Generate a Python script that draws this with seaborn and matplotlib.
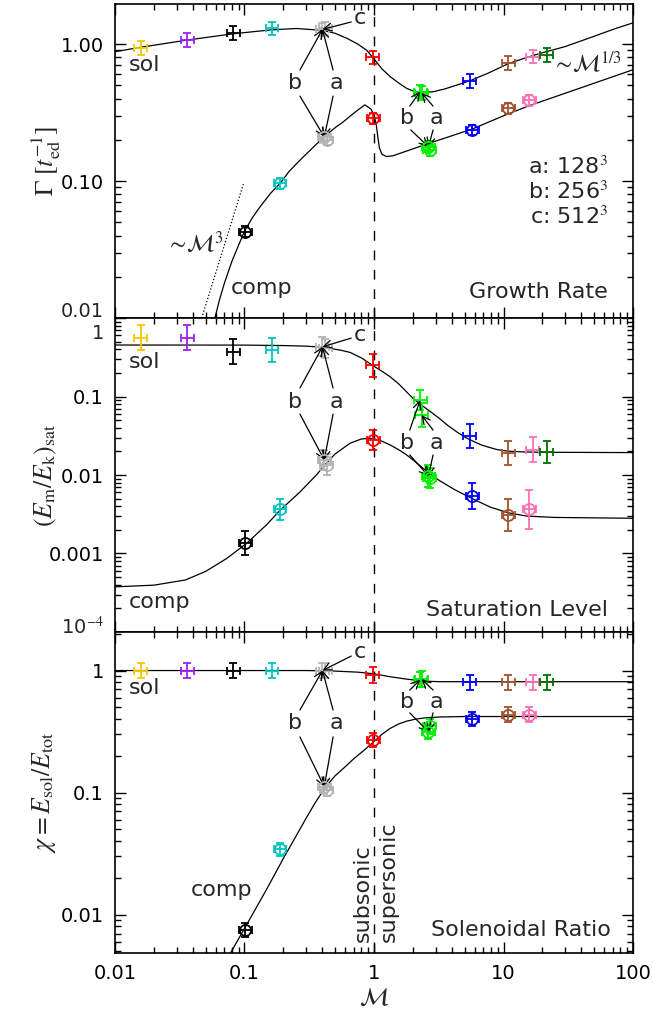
import matplotlib
matplotlib.use("Agg")
import matplotlib.pyplot as plt
import pandas as pd
import seaborn as sns
from matplotlib.ticker import FixedLocator, FixedFormatter, LogLocator, NullFormatter

sns.set_theme(style="ticks")
plt.rcParams["font.family"] = ["DejaVu Sans"]
plt.rcParams["mathtext.fontset"] = "stix"

# ---- point data (one entry per simulation) ----
sol_colors = ["#F5C800", "#A020F0", "black", "#00C4C4", "#B4B4B4", "red",
              "#00F000", "blue", "#A0522D", "#FF6EB4", "#007000"]
sol_mach = [0.0158, 0.036, 0.082, 0.163, 0.40, 0.98, 2.27, 5.5, 10.9, 16.8, 21.5]
comp_colors = ["black", "#00C4C4", "#B4B4B4", "red", "#00F000", "blue", "#A0522D", "#FF6EB4"]
comp_mach = [0.101, 0.188, 0.413, 0.99, 2.63, 5.74, 10.9, 15.8]

# extra resolutions at the gray and green Mach numbers
res_sol_colors = ["#B4B4B4", "#00F000"]
res_sol_mach = [0.42, 2.33]
res_comp_colors = ["#B4B4B4", "#00F000"]
res_comp_mach = [0.43, 2.70]

# growth rate
gr_sol = [0.94, 1.07, 1.20, 1.30, 1.28, 0.80, 0.45, 0.54, 0.73, 0.81, 0.83]
gr_sol_err = [0.05, 0.05, 0.05, 0.05, 0.05, 0.05, 0.05, 0.05, 0.05, 0.05, 0.05]
gr_comp = [0.0427, 0.096, 0.21, 0.287, 0.178, 0.236, 0.34, 0.39]
gr_comp_err = [0.04, 0.04, 0.04, 0.04, 0.04, 0.04, 0.04, 0.04]
gr_res_sol = [1.30, 0.44]
gr_res_comp = [0.20, 0.168]

# saturation level
sat_sol = [0.56, 0.56, 0.37, 0.39, 0.43, 0.25, 0.090, 0.0315, 0.019, 0.021, 0.0195]
sat_sol_err = [0.16, 0.16, 0.16, 0.15, 0.12, 0.15, 0.13, 0.15, 0.15, 0.16, 0.14]
sat_comp = [0.00135, 0.00365, 0.0156, 0.028, 0.0097, 0.0054, 0.0031, 0.00365]
sat_comp_err = [0.15, 0.13, 0.13, 0.13, 0.14, 0.16, 0.20, 0.25]
sat_res_sol = [0.41, 0.058]
sat_res_comp = [0.0136, 0.0092]

# solenoidal ratio
chi_sol = [1.0, 1.0, 1.0, 1.0, 1.0, 0.92, 0.84, 0.80, 0.80, 0.80, 0.80]
chi_sol_err = [0.065, 0.065, 0.065, 0.065, 0.065, 0.065, 0.06, 0.06, 0.06, 0.06, 0.06]
chi_comp = [0.0075, 0.0342, 0.112, 0.27, 0.316, 0.40, 0.434, 0.434]
chi_comp_err = [0.06, 0.05, 0.05, 0.06, 0.06, 0.06, 0.06, 0.06]
chi_res_sol = [1.0, 0.85]
chi_res_comp = [0.105, 0.35]

# ---- fit curves ----
gr_sol_curve_m = [0.01, 0.016, 0.036, 0.082, 0.16, 0.25, 0.4, 0.5, 0.62, 0.75, 0.88, 1.0,
                  1.15, 1.33, 1.55, 1.79, 2.0, 2.27, 2.87, 3.5, 4.3, 5.5, 7.5, 10.9, 14,
                  19.1, 30, 50, 70, 100]
gr_sol_curve_v = [0.88, 0.95, 1.07, 1.19, 1.27, 1.30, 1.26, 1.20, 1.10, 1.00, 0.90, 0.78,
                  0.66, 0.58, 0.52, 0.475, 0.455, 0.444, 0.449, 0.47, 0.50, 0.54, 0.61, 0.72,
                  0.78, 0.855, 0.96, 1.14, 1.28, 1.43]
gr_comp_curve_m = [0.0591, 0.064, 0.07, 0.08, 0.09, 0.1, 0.115, 0.132, 0.16, 0.188, 0.22,
                   0.268, 0.33, 0.41, 0.5, 0.58, 0.66, 0.75, 0.85, 0.95, 1.0, 1.04, 1.07,
                   1.10, 1.15, 1.25, 1.4, 2.63, 5.74, 10.9, 15.8, 100]
gr_comp_curve_v = [0.01, 0.0135, 0.018, 0.026, 0.034, 0.043, 0.054, 0.065, 0.082, 0.096,
                   0.117, 0.142, 0.172, 0.21, 0.245, 0.271, 0.30, 0.33, 0.36, 0.335, 0.30,
                   0.26, 0.21, 0.175, 0.157, 0.151, 0.153, 0.188, 0.24, 0.31, 0.355, 0.65]
m3_guide_m = [0.0467, 0.098]
m3_guide_v = [0.01, 0.095]

sat_sol_curve_m = [0.01, 0.1, 0.2, 0.3, 0.41, 0.55, 0.653, 0.8, 1.0, 1.15, 1.33, 1.55, 1.79,
                   2.0, 2.27, 2.7, 3.2, 3.7, 4.36, 5.1, 5.9, 6.8, 7.9, 9.0, 10.6, 14, 19, 100]
sat_sol_curve_v = [0.453, 0.452, 0.446, 0.438, 0.423, 0.39, 0.365, 0.31, 0.243, 0.21, 0.179,
                   0.145, 0.114, 0.095, 0.080, 0.065, 0.0525, 0.043, 0.0354, 0.030, 0.0267,
                   0.024, 0.0223, 0.021, 0.0202, 0.0197, 0.0195, 0.0193]
sat_comp_curve_m = [0.01, 0.02, 0.035, 0.05, 0.073, 0.104, 0.148, 0.188, 0.268, 0.36, 0.42,
                    0.5, 0.653, 0.8, 0.93, 1.0, 1.15, 1.33, 1.55, 1.79, 2.2, 2.63, 3.2, 4.2,
                    5.74, 7.9, 10.9, 15, 25, 100]
sat_comp_curve_v = [3.76e-4, 3.95e-4, 4.6e-4, 5.9e-4, 8.66e-4, 0.00135, 0.00232, 0.00355,
                    0.00607, 0.01005, 0.0136, 0.0185, 0.0254, 0.0288, 0.0293, 0.029, 0.027,
                    0.0242, 0.021, 0.018, 0.0137, 0.0107, 0.0085, 0.0065, 0.0050, 0.0039,
                    0.0033, 0.0030, 0.00288, 0.00281]

chi_sol_curve_m = [0.01, 0.3, 0.5, 0.75, 1.0, 1.33, 1.79, 2.4, 3.2, 100]
chi_sol_curve_v = [1.0, 1.0, 0.99, 0.97, 0.94, 0.89, 0.85, 0.82, 0.81, 0.81]
chi_comp_curve_m = [0.078, 0.1, 0.15, 0.2, 0.25, 0.3, 0.35, 0.42, 0.5, 0.6, 0.7, 0.85, 1.0,
                    1.15, 1.33, 1.55, 1.79, 2.1, 2.5, 3.2, 5.0, 100]
chi_comp_curve_v = [0.00485, 0.0077, 0.0165, 0.029, 0.044, 0.062, 0.082, 0.110, 0.137, 0.163,
                    0.19, 0.225, 0.262, 0.30, 0.335, 0.365, 0.385, 0.40, 0.41, 0.416, 0.42, 0.42]

XERR = 0.05  # dex, horizontal error half-width
FS = 14      # tick labels
TFS = 16     # annotations


def draw_points(ax, mach, vals, errs, colors, comp):
    for m, v, e, c in zip(mach, vals, errs, colors):
        xe = [[m - m / 10**XERR], [m * 10**XERR - m]]
        ye = [[v - v / 10**e], [v * 10**e - v]]
        ax.errorbar(m, v, xerr=xe, yerr=ye, fmt="o" if comp else "none", ms=8,
                    mfc="none", mec=c, mew=1.3, ecolor=c, elinewidth=1.3,
                    capsize=3, capthick=1.3, zorder=3)


def draw_curve(ax, xs, ys, **kw):
    df = pd.DataFrame({"M": xs, "v": ys})
    sns.lineplot(data=df, x="M", y="v", ax=ax, color="black", lw=0.9,
                 estimator=None, sort=False, zorder=2, **kw)


def style_axis(ax, ylim, yticks, ylabels):
    ax.set_xscale("log")
    ax.set_yscale("log")
    ax.set_xlim(0.01, 100)
    ax.set_ylim(*ylim)
    ax.xaxis.set_major_locator(FixedLocator([0.01, 0.1, 1, 10, 100]))
    ax.xaxis.set_major_formatter(FixedFormatter(["0.01", "0.1", "1", "10", "100"]))
    ax.xaxis.set_minor_locator(LogLocator(base=10, subs=range(2, 10), numticks=20))
    ax.xaxis.set_minor_formatter(NullFormatter())
    ax.yaxis.set_major_locator(FixedLocator(yticks))
    ax.yaxis.set_major_formatter(FixedFormatter(ylabels))
    ax.yaxis.set_minor_locator(LogLocator(base=10, subs=range(2, 10), numticks=20))
    ax.yaxis.set_minor_formatter(NullFormatter())
    ax.tick_params(which="both", direction="in", top=True, right=True, width=1,
                   labelsize=FS, colors="black")
    ax.tick_params(which="major", length=8, pad=8)
    ax.tick_params(which="minor", length=4.5)
    for sp in ax.spines.values():
        sp.set_linewidth(1.2)
        sp.set_color("black")
    ax.axvline(1, color="black", lw=1, ls=(0, (7, 7)), zorder=1)
    ax.set_xlabel("")


def edge_label(ax, text, yfrac, dy):
    # tick label at the panel edge, nudged so stacked panels don't collide
    ax.annotate(text, xy=(0, yfrac), xycoords="axes fraction", xytext=(-8, dy),
                textcoords="offset points", ha="right", va="center", fontsize=FS)


def label_arrows(ax, letter, xy_text, starts, targets):
    ax.text(*xy_text, letter, transform=ax.transAxes, fontsize=TFS, ha="center", va="center")
    for st, tg in zip(starts, targets):
        ax.annotate("", xy=tg, xycoords="data", xytext=st, textcoords="axes fraction",
                    arrowprops=dict(arrowstyle="->", lw=0.9, color="black",
                                    shrinkA=0, shrinkB=0, mutation_scale=14))


fig = plt.figure(figsize=(6.53, 10.19), dpi=100)
ax_gr = fig.add_axes([0.1761, 0.6879, 0.7933, 0.3081])
ax_sat = fig.add_axes([0.1761, 0.3798, 0.7933, 0.3081])
ax_chi = fig.add_axes([0.1761, 0.0648, 0.7933, 0.3150])

panels = [
    (ax_gr, gr_sol, gr_sol_err, gr_comp, gr_comp_err, gr_res_sol, gr_res_comp,
     gr_sol_curve_m, gr_sol_curve_v, gr_comp_curve_m, gr_comp_curve_v),
    (ax_sat, sat_sol, sat_sol_err, sat_comp, sat_comp_err, sat_res_sol, sat_res_comp,
     sat_sol_curve_m, sat_sol_curve_v, sat_comp_curve_m, sat_comp_curve_v),
    (ax_chi, chi_sol, chi_sol_err, chi_comp, chi_comp_err, chi_res_sol, chi_res_comp,
     chi_sol_curve_m, chi_sol_curve_v, chi_comp_curve_m, chi_comp_curve_v),
]

for (ax, s, se, c, ce, rs, rc, scm, scv, ccm, ccv) in panels:
    draw_curve(ax, scm, scv)
    draw_curve(ax, ccm, ccv)
    draw_points(ax, sol_mach, s, se, sol_colors, comp=False)
    draw_points(ax, comp_mach, c, ce, comp_colors, comp=True)
    draw_points(ax, res_sol_mach, rs, se[4:6], res_sol_colors, comp=False)
    draw_points(ax, res_comp_mach, rc, ce[2:4], res_comp_colors, comp=True)

draw_curve(ax_gr, m3_guide_m, m3_guide_v, linestyle=":")

style_axis(ax_gr, (0.01, 1.96), [0.01, 0.1, 1], ["", "0.10", "1.00"])
style_axis(ax_sat, (1e-4, 1.0), [1e-4, 1e-3, 1e-2, 0.1, 1],
           ["", "0.001", "0.01", "0.1", ""])
style_axis(ax_chi, (0.00485, 2.07), [0.01, 0.1, 1], ["0.01", "0.1", "1"])
ax_gr.tick_params(labelbottom=False)
ax_sat.tick_params(labelbottom=False)
edge_label(ax_gr, "0.01", 0.0, 4.5)
edge_label(ax_sat, "1", 1.0, -11)
edge_label(ax_sat, r"10$^{-4}$", 0.0, 3.6)

ax_gr.set_ylabel(r"$\Gamma\ [t_{\rm ed}^{-1}]$", fontsize=18.5)
ax_sat.set_ylabel(r"$(E_{\rm m}/E_{\rm k})_{\rm sat}$", fontsize=18.5)
ax_chi.set_ylabel(r"$\chi = E_{\rm sol}/E_{\rm tot}$", fontsize=18.5)
ax_gr.yaxis.set_label_coords(-0.10, 0.5)
ax_sat.yaxis.set_label_coords(-0.108, 0.5)
ax_chi.yaxis.set_label_coords(-0.11, 0.5)
ax_chi.set_xlabel(r"$\mathcal{M}$", fontsize=18, labelpad=2)

# text labels
ax_gr.text(0.058, 0.806, "sol", transform=ax_gr.transAxes, fontsize=TFS, ha="center", va="center")
ax_gr.text(0.283, 0.095, "comp", transform=ax_gr.transAxes, fontsize=TFS, ha="center", va="center")
ax_gr.text(0.154, 0.238, r"$\sim\!\mathcal{M}^3$", transform=ax_gr.transAxes, fontsize=TFS + 1,
           ha="center", va="center")
ax_gr.text(0.912, 0.811, r"$\sim\!\mathcal{M}^{1/3}$", transform=ax_gr.transAxes,
           fontsize=TFS + 1, ha="center", va="center")
for lab, yy in [("a: 128$^3$", 0.481), ("b: 256$^3$", 0.401), ("c: 512$^3$", 0.322)]:
    ax_gr.text(0.952, yy, lab, transform=ax_gr.transAxes, fontsize=TFS, ha="right", va="center")
ax_gr.text(0.952, 0.083, "Growth Rate", transform=ax_gr.transAxes, fontsize=TFS,
           ha="right", va="center")

ax_sat.text(0.058, 0.861, "sol", transform=ax_sat.transAxes, fontsize=TFS, ha="center", va="center")
ax_sat.text(0.087, 0.0965, "comp", transform=ax_sat.transAxes, fontsize=TFS, ha="center", va="center")
ax_sat.text(0.952, 0.070, "Saturation Level", transform=ax_sat.transAxes, fontsize=TFS,
            ha="right", va="center")

ax_chi.text(0.058, 0.825, "sol", transform=ax_chi.transAxes, fontsize=TFS, ha="center", va="center")
ax_chi.text(0.205, 0.195, "comp", transform=ax_chi.transAxes, fontsize=TFS, ha="center", va="center")
ax_chi.text(0.958, 0.072, "Solenoidal Ratio", transform=ax_chi.transAxes, fontsize=TFS,
            ha="right", va="center")
ax_chi.text(0.479, 0.034, "subsonic", transform=ax_chi.transAxes, fontsize=TFS, rotation=90,
            ha="center", va="bottom")
ax_chi.text(0.529, 0.034, "supersonic", transform=ax_chi.transAxes, fontsize=TFS, rotation=90,
            ha="center", va="bottom")

# resolution arrows (a, b, c)
arrow_layout = [
    dict(c=((0.473, 0.955), (0.456, 0.943)),
         b1=((0.347, 0.748), [(0.357, 0.790), (0.357, 0.707)]),
         a1=((0.428, 0.748), [(0.421, 0.790), (0.421, 0.707)]),
         b2=((0.563, 0.636), [(0.569, 0.675), (0.571, 0.599)]),
         a2=((0.621, 0.636), [(0.614, 0.675), (0.614, 0.599)])),
    dict(c=((0.473, 0.946), (0.456, 0.936)),
         b1=((0.347, 0.733), [(0.357, 0.777), (0.357, 0.694)]),
         a1=((0.428, 0.733), [(0.421, 0.777), (0.421, 0.694)]),
         b2=((0.563, 0.601), [(0.569, 0.643), (0.569, 0.564)]),
         a2=((0.621, 0.601), [(0.614, 0.643), (0.614, 0.564)])),
    dict(c=((0.473, 0.939), (0.456, 0.925)),
         b1=((0.347, 0.716), [(0.357, 0.757), (0.357, 0.673)]),
         a1=((0.428, 0.716), [(0.421, 0.757), (0.421, 0.673)]),
         b2=((0.563, 0.783), [(0.569, 0.819), (0.569, 0.748)]),
         a2=((0.621, 0.783), [(0.614, 0.819), (0.614, 0.748)])),
]
for (ax, s, se, c, ce, rs, rc, *_), lay in zip(panels, arrow_layout):
    gray_sol = (sol_mach[4], s[4])
    gray_comp = (comp_mach[2], c[2])
    green_sol_b = (sol_mach[6], s[6])
    green_sol_a = (res_sol_mach[1], rs[1])
    green_comp = (comp_mach[4], c[4])
    ctext, cstart = lay["c"]
    label_arrows(ax, "c", ctext, [cstart], [gray_sol])
    label_arrows(ax, "b", lay["b1"][0], lay["b1"][1], [gray_sol, gray_comp])
    label_arrows(ax, "a", lay["a1"][0], lay["a1"][1], [gray_sol, gray_comp])
    label_arrows(ax, "b", lay["b2"][0], lay["b2"][1], [green_sol_b, green_comp])
    label_arrows(ax, "a", lay["a2"][0], lay["a2"][1], [green_sol_a, green_comp])

fig.savefig("out.png", dpi=100)
plt.close(fig)
